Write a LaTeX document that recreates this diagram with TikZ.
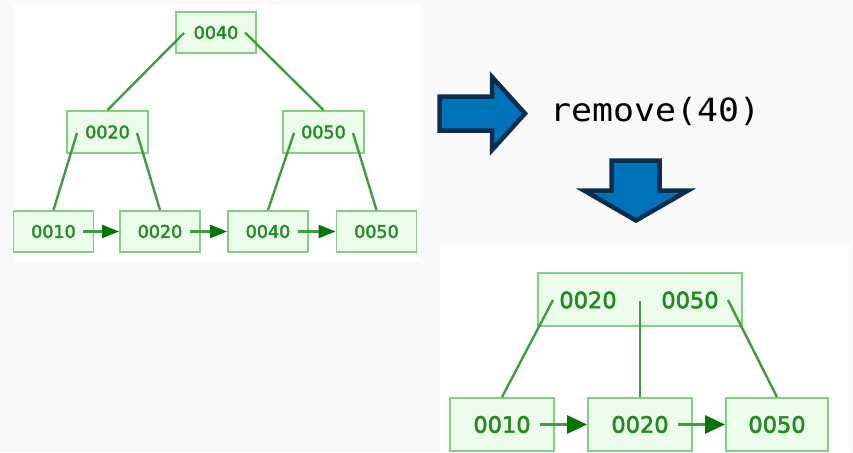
\documentclass[tikz,border=0pt]{standalone}
\usepackage{fontspec}
\setmainfont{DejaVu Sans}
\newfontfamily\gf{DejaVu Sans}[FakeBold=2.5]
\newfontfamily\monof{DejaVu Sans Mono}
\usetikzlibrary{arrows.meta,calc}
\definecolor{bgray}{HTML}{F9F9F9}
\definecolor{boxfill}{HTML}{EBFCEB}
\definecolor{boxline}{HTML}{85CC85}
\definecolor{ln}{HTML}{3F9C3F}
\definecolor{txt}{HTML}{248A24}
\definecolor{ahead}{HTML}{057505}
\definecolor{bluef}{HTML}{0072BA}
\definecolor{bluel}{HTML}{0B2E4E}
\begin{document}
\begin{tikzpicture}[x=1pt,y=-1pt,
  box/.style={draw=boxline, fill=boxfill, line width=1.8pt, inner sep=0pt, text=txt},
  smallbox/.style={box, minimum width=80pt, minimum height=41pt, font=\gf\fontsize{17.5}{17.5}\selectfont},
  bigbox/.style={box, minimum width=104pt, minimum height=53pt, font=\gf\fontsize{22.5}{22.5}\selectfont},
  keytext/.style={inner sep=0pt, text=txt, font=\gf\fontsize{22.5}{22.5}\selectfont},
  link/.style={draw=ln, line width=2.4pt},
  nexts/.style={draw=ln, line width=2.4pt, -{Triangle[length=17pt,width=13pt,color=ahead]}},
  nextb/.style={draw=ln, line width=2.6pt, -{Triangle[length=20pt,width=18pt,color=ahead]}},
  bluearrow/.style={draw=bluel, fill=bluef, line width=4.5pt, line join=miter}
]
\fill[bgray] (0,0) rectangle (853,452);
\path[use as bounding box] (0,0) rectangle (853,452);
\fill[white] (14,5) rectangle (420,262);
\fill[white] (440,245) rectangle (850,452);

% top tree
\node[smallbox] (r) at (216,32.5) {0040};
\node[smallbox, minimum width=81pt, minimum height=42pt] (ml) at (107.5,132) {0020};
\node[smallbox, minimum width=81pt, minimum height=42pt] (mr) at (323.5,132) {0050};
\node[smallbox] (l1) at (53.5,231.5) {0010};
\node[smallbox] (l2) at (160,231.5) {0020};
\node[smallbox] (l3) at (268,231.5) {0040};
\node[smallbox] (l4) at (376.5,231.5) {0050};

\draw[link] ($(r.center)+(-32,0.5)$) -- (ml.north);
\draw[link] ($(r.center)+(29,0)$) -- (mr.north);
\draw[link] ($(ml.center)+(-30.5,1)$) -- (l1.north);
\draw[link] ($(ml.center)+(29.5,1)$) -- (l2.north);
\draw[link] ($(mr.center)+(-29.5,1)$) -- (l3.north);
\draw[link] ($(mr.center)+(29.5,1)$) -- (l4.north);

\draw[nexts] ($(l1.center)+(29.5,0)$) -- (l2.west);
\draw[nexts] ($(l2.center)+(30,0)$) -- (l3.west);
\draw[nexts] ($(l3.center)+(30,0)$) -- (l4.west);

% blue arrows and label
\draw[bluearrow] (439.5,96.5) -- (492,96.5) -- (492,77) -- (525,113.5) -- (492,150) -- (492,130.5) -- (439.5,130.5) -- cycle;
\draw[bluearrow] (611.5,160.5) -- (659.5,160.5) -- (659.5,190.5) -- (688,190.5) -- (636,220.5) -- (584,190.5) -- (611.5,190.5) -- cycle;
\node[anchor=base west, inner sep=0pt, font=\monof\fontsize{32}{32}\selectfont, xscale=1.09] (op) at (550,121) {remove(40)};

% bottom tree
\node[box, minimum width=204pt, minimum height=53pt] (br) at (640,299.5) {};
\node[keytext] (k1) at (588,300) {0020};
\node[keytext] (k2) at (690,300) {0050};
\node[bigbox] (ba) at (502,424.5) {0010};
\node[bigbox] (bb) at (640,424.5) {0020};
\node[bigbox, minimum width=102pt] (bc) at (777,424.5) {0050};

\draw[link] ($(br.center)+(-87,0.5)$) -- (ba.north);
\draw[link] ($(br.center)+(0,1.5)$) -- (bb.north);
\draw[link] ($(br.center)+(88,0.5)$) -- (bc.north);

\draw[nextb] ($(ba.center)+(38,0)$) -- (bb.west);
\draw[nextb] ($(bb.center)+(38,0)$) -- (bc.west);
\end{tikzpicture}
\end{document}
